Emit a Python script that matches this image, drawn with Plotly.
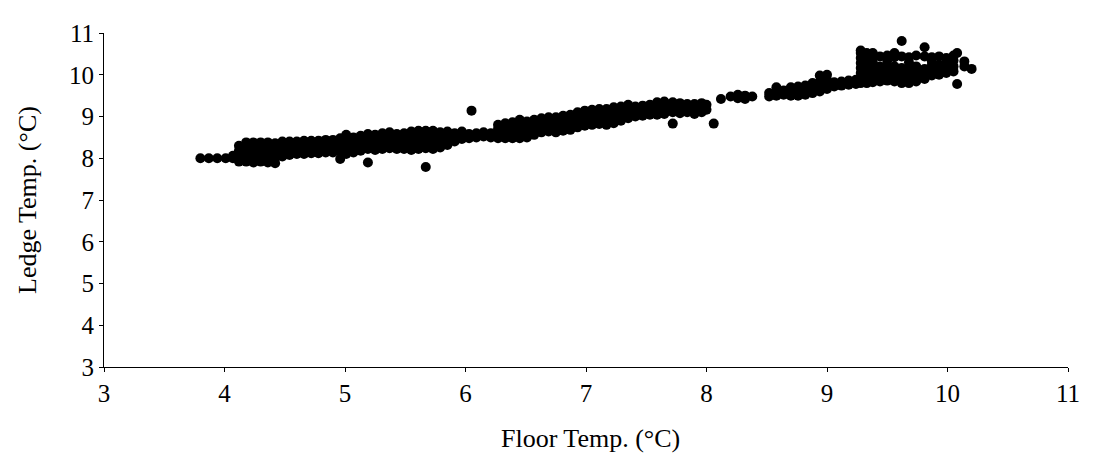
import plotly.graph_objects as go

# Floor temperature (x) columns and the ledge temperatures (y) read at each column
floor_cols = [
    3.80, 3.87, 3.94, 4.01, 4.07, 4.12, 4.18, 4.24, 4.30, 4.36,
    4.42, 4.48, 4.54, 4.60, 4.66, 4.72, 4.78, 4.84, 4.90, 4.96,
    5.01, 5.07, 5.13, 5.19, 5.25, 5.31, 5.37, 5.43, 5.49, 5.55,
    5.61, 5.67, 5.73, 5.79, 5.85, 5.91, 5.97, 6.03, 6.05, 6.09,
    6.15, 6.21, 6.27, 6.33, 6.39, 6.45, 6.51, 6.57, 6.63, 6.69,
    6.75, 6.81, 6.87, 6.93, 6.99, 7.05, 7.11, 7.17, 7.23, 7.29,
    7.35, 7.41, 7.47, 7.53, 7.59, 7.65, 7.72, 7.78, 7.84, 7.90,
    7.96, 8.00, 8.06, 8.12, 8.20, 8.26, 8.32, 8.38, 8.52, 8.58,
    8.64, 8.70, 8.76, 8.82, 8.88, 8.94, 9.00, 9.06, 9.12, 9.18,
    9.24, 9.28, 9.33, 9.38, 9.44, 9.50, 9.56, 9.62, 9.68, 9.74,
    9.81, 9.87, 9.93, 9.99, 10.05, 10.08, 10.14, 10.20,
]

ledge_cols = [
    [8.00], [8.00], [8.00], [8.00], [8.00, 8.06],
    [7.92, 8.05, 8.18, 8.30],
    [7.92, 8.04, 8.16, 8.30, 8.38],
    [7.90, 8.02, 8.14, 8.26, 8.38],
    [7.92, 8.04, 8.16, 8.28, 8.38],
    [7.90, 8.02, 8.14, 8.26, 8.38],
    [7.88, 8.00, 8.12, 8.24, 8.36],
    [8.04, 8.16, 8.28, 8.40],
    [8.08, 8.20, 8.32, 8.40],
    [8.10, 8.22, 8.34, 8.40],
    [8.10, 8.22, 8.34, 8.42],
    [8.12, 8.24, 8.36, 8.42],
    [8.12, 8.24, 8.36, 8.42],
    [8.14, 8.26, 8.38, 8.44],
    [8.14, 8.26, 8.38, 8.44],
    [7.98, 8.16, 8.28, 8.40, 8.48],
    [8.10, 8.22, 8.34, 8.46, 8.56],
    [8.14, 8.26, 8.38, 8.50],
    [8.18, 8.30, 8.42, 8.54],
    [7.90, 8.22, 8.34, 8.46, 8.58],
    [8.20, 8.32, 8.44, 8.56],
    [8.22, 8.34, 8.46, 8.60],
    [8.24, 8.36, 8.48, 8.62],
    [8.22, 8.34, 8.46, 8.58],
    [8.22, 8.34, 8.46, 8.60],
    [8.20, 8.32, 8.44, 8.56, 8.64],
    [8.22, 8.34, 8.46, 8.58, 8.66],
    [7.79, 8.24, 8.36, 8.48, 8.60, 8.66],
    [8.22, 8.34, 8.46, 8.58, 8.66],
    [8.26, 8.38, 8.50, 8.62],
    [8.32, 8.44, 8.56, 8.64],
    [8.40, 8.50, 8.60],
    [8.46, 8.56, 8.64],
    [8.48, 8.58],
    [9.14],
    [8.50, 8.60],
    [8.52, 8.62],
    [8.50, 8.60],
    [8.48, 8.58, 8.70, 8.80],
    [8.48, 8.60, 8.72, 8.84],
    [8.48, 8.60, 8.72, 8.86],
    [8.48, 8.60, 8.72, 8.86, 8.92],
    [8.50, 8.62, 8.74, 8.88],
    [8.56, 8.68, 8.80, 8.92],
    [8.62, 8.74, 8.86, 8.96],
    [8.64, 8.76, 8.88, 8.98],
    [8.62, 8.74, 8.86, 8.98],
    [8.66, 8.78, 8.90, 9.02],
    [8.68, 8.80, 8.92, 9.04],
    [8.74, 8.86, 8.98, 9.10],
    [8.78, 8.90, 9.02, 9.14],
    [8.80, 8.92, 9.04, 9.16],
    [8.82, 8.94, 9.06, 9.18],
    [8.80, 8.92, 9.04, 9.18],
    [8.84, 8.96, 9.08, 9.22],
    [8.90, 9.02, 9.14, 9.24],
    [8.96, 9.08, 9.20, 9.28],
    [9.00, 9.12, 9.24],
    [9.02, 9.14, 9.26],
    [9.04, 9.16, 9.28],
    [9.04, 9.16, 9.28, 9.34],
    [9.06, 9.18, 9.30, 9.36],
    [8.83, 9.10, 9.22, 9.34],
    [9.08, 9.20, 9.32],
    [9.10, 9.22, 9.30],
    [9.06, 9.18, 9.30],
    [9.10, 9.22, 9.32],
    [9.16, 9.28],
    [8.83],
    [9.42],
    [9.48],
    [9.44, 9.52],
    [9.42, 9.50],
    [9.48],
    [9.48, 9.56],
    [9.50, 9.60, 9.70],
    [9.52, 9.62],
    [9.50, 9.60, 9.70],
    [9.50, 9.62, 9.72],
    [9.52, 9.64, 9.74],
    [9.56, 9.68, 9.80],
    [9.60, 9.72, 9.84, 9.98],
    [9.66, 9.78, 9.88, 10.00],
    [9.72, 9.82],
    [9.74, 9.84],
    [9.76, 9.86],
    [9.78, 9.88],
    [9.80, 9.92, 10.04, 10.16, 10.28, 10.40, 10.52, 10.58],
    [9.80, 9.92, 10.04, 10.16, 10.28, 10.40, 10.52],
    [9.82, 9.94, 10.06, 10.18, 10.30, 10.42, 10.52],
    [9.84, 9.96, 10.08, 10.20, 10.44],
    [9.86, 9.98, 10.10, 10.22, 10.34, 10.46],
    [9.84, 9.96, 10.08, 10.20, 10.42, 10.52],
    [9.80, 9.92, 10.04, 10.16, 10.44, 10.81],
    [9.80, 9.92, 10.04, 10.16, 10.30, 10.42],
    [9.84, 9.96, 10.08, 10.20, 10.46],
    [9.90, 10.02, 10.14, 10.44, 10.66],
    [9.98, 10.10, 10.22, 10.32, 10.42],
    [10.00, 10.12, 10.24, 10.44],
    [10.04, 10.16, 10.28, 10.40],
    [10.08, 10.20, 10.34, 10.46],
    [9.78, 10.52],
    [10.20, 10.32],
    [10.14],
]

tick_vals = [3, 4, 5, 6, 7, 8, 9, 10, 11]
x_title = "Floor Temp. (°C)"
y_title = "Ledge Temp. (°C)"

floor_temp = [x for x, ys in zip(floor_cols, ledge_cols) for _ in ys]
ledge_temp = [y for ys in ledge_cols for y in ys]

FONT = "Liberation Serif"

fig = go.Figure(
    go.Scatter(
        x=floor_temp,
        y=ledge_temp,
        mode="markers",
        marker=dict(size=10, color="black", line=dict(width=0)),
        hoverinfo="x+y",
    )
)

axis_common = dict(
    range=[3, 11],
    tickvals=tick_vals,
    showline=True,
    linecolor="black",
    linewidth=1,
    ticks="outside",
    ticklen=4,
    tickwidth=1,
    tickcolor="black",
    showgrid=False,
    zeroline=False,
    ticklabeloverflow="allow",
    tickfont=dict(family=FONT, size=25, color="black"),
)

# The page body keeps an 8 px margin, so the figure is sized and offset for it.
fig.update_layout(
    width=1094,
    height=447,
    margin=dict(l=96, r=34, t=13, b=88),
    paper_bgcolor="white",
    plot_bgcolor="white",
    showlegend=False,
    xaxis=axis_common,
    yaxis=axis_common,
    annotations=[
        dict(
            text=x_title, xref="paper", yref="paper",
            x=0.505, y=-0.214, xanchor="center", yanchor="middle",
            showarrow=False, font=dict(family=FONT, size=26, color="black"),
        ),
        dict(
            text=y_title, xref="paper", yref="paper",
            x=-0.0799, y=0.5, xanchor="center", yanchor="middle",
            textangle=-90, showarrow=False,
            font=dict(family=FONT, size=26, color="black"),
        ),
    ],
)

fig.write_html("out.html")
